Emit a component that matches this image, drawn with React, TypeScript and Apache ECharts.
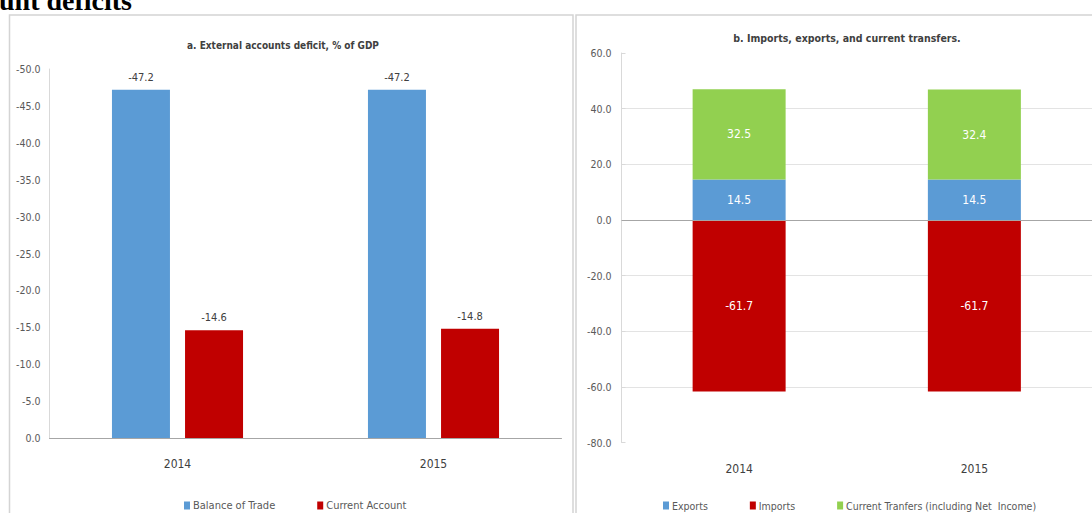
import React, { useEffect, useRef } from "react";
import * as echarts from "echarts";

// Panel a: external accounts deficit, % of GDP
const years = ["2014", "2015"];
const balanceOfTrade = [-47.2, -47.2];
const currentAccount = [-14.6, -14.8];

// Panel b: imports, exports and current transfers
const exportsVals = [14.5, 14.5];
const importsVals = [-61.7, -61.7];
const transfersVals = [32.5, 32.4];

const leftTicks = { min: -50, max: 0, step: 5 };
const rightTicks = { min: -80, max: 60, step: 20 };

const FONT = "'DejaVu Sans Condensed', 'Liberation Sans Narrow', sans-serif";
const BLUE = "#5b9bd5";
const RED = "#c00000";
const GREEN = "#92d050";
const TEXT = "#595959";

export default function App() {
  const ref = useRef<HTMLDivElement>(null);

  useEffect(() => {
    if (!ref.current) return;
    const chart = echarts.init(ref.current, null, { renderer: "svg" });
    const fmt = (v: number) => v.toFixed(1);

    const barLabel = (pos: string, color: string, size: number, dist = 5) => ({
      show: true,
      position: pos,
      distance: dist,
      color,
      fontFamily: FONT,
      fontSize: size,
      formatter: (p: any) => fmt(p.value),
    });

    chart.setOption({
      animation: false,
      backgroundColor: "#ffffff",
      textStyle: { fontFamily: FONT },
      graphic: [
        {
          type: "text",
          left: -1,
          top: -14,
          style: {
            text: "unt deficits",
            font: "bold 28px 'Liberation Serif', 'DejaVu Serif', serif",
            fill: "#000000",
          },
        },
        {
          type: "rect",
          shape: { x: 9.5, y: 15, width: 563.5, height: 520 },
          style: { fill: "none", stroke: "#d4d4d4", lineWidth: 1.5 },
          silent: true,
        },
        {
          type: "rect",
          shape: { x: 576, y: 15, width: 540, height: 520 },
          style: { fill: "none", stroke: "#d4d4d4", lineWidth: 1.5 },
          silent: true,
        },
      ],
      title: [
        {
          text: "a. External accounts deficit, % of GDP",
          left: 278,
          top: 35,
          textAlign: "center",
          textStyle: { fontFamily: FONT, fontSize: 10, fontWeight: "bold", color: "#404040" },
        },
        {
          text: "b. Imports, exports, and current transfers.",
          left: 842,
          top: 27,
          textAlign: "center",
          textStyle: { fontFamily: FONT, fontSize: 10.5, fontWeight: "bold", color: "#404040" },
        },
      ],
      legend: [
        {
          data: ["Balance of Trade", "Current Account"],
          left: 179,
          top: 495,
          itemWidth: 6,
          itemHeight: 8,
          itemGap: 42,
          icon: "rect",
          textStyle: { fontFamily: FONT, fontSize: 11, color: TEXT, padding: [0, 0, 0, -2] },
        },
        {
          data: ["Exports", "Imports", "Current Tranfers (including Net  Income)"],
          left: 658,
          top: 495,
          itemWidth: 6,
          itemHeight: 8,
          itemGap: 42,
          icon: "rect",
          textStyle: { fontFamily: FONT, fontSize: 10.5, color: TEXT, padding: [0, 0, 0, -2] },
        },
      ],
      grid: [
        { left: 49.5, right: 530.5, top: 69, bottom: 75 },
        { left: 621.5, right: 0, top: 53, bottom: 70.5 },
      ],
      xAxis: [
        {
          type: "category",
          gridIndex: 0,
          data: years,
          axisLine: { lineStyle: { color: "#a6a6a6" } },
          axisTick: { show: false },
          axisLabel: { color: "#404040", fontFamily: FONT, fontSize: 12, margin: 20 },
        },
        {
          type: "category",
          gridIndex: 1,
          data: years,
          axisLine: { show: false, onZero: false },
          axisTick: { show: false },
          axisLabel: { color: "#404040", fontFamily: FONT, fontSize: 12, margin: 20 },
        },
      ],
      yAxis: [
        {
          type: "value",
          gridIndex: 0,
          inverse: true,
          min: leftTicks.min,
          max: leftTicks.max,
          interval: leftTicks.step,
          axisLine: { show: true, lineStyle: { color: "#d9d9d9" } },
          axisTick: { show: false },
          splitLine: { show: false },
          axisLabel: { color: TEXT, fontFamily: FONT, fontSize: 10.5, margin: 9, formatter: fmt },
        },
        {
          type: "value",
          gridIndex: 1,
          min: rightTicks.min,
          max: rightTicks.max,
          interval: rightTicks.step,
          axisLine: { show: true, lineStyle: { color: "#d9d9d9" } },
          axisTick: { show: true, inside: true, length: 4, lineStyle: { color: "#d9d9d9" } },
          splitLine: {
            show: true,
            showMinLine: false,
            showMaxLine: false,
            lineStyle: { color: "#e3e3e3" },
          },
          axisLabel: { color: TEXT, fontFamily: FONT, fontSize: 10.5, margin: 10, formatter: fmt },
        },
      ],
      series: [
        {
          name: "Balance of Trade",
          type: "bar",
          xAxisIndex: 0,
          yAxisIndex: 0,
          data: balanceOfTrade,
          barWidth: 58,
          barGap: "26%",
          itemStyle: { color: BLUE },
          label: barLabel("top", "#404040", 11, 7),
        },
        {
          name: "Current Account",
          type: "bar",
          xAxisIndex: 0,
          yAxisIndex: 0,
          data: currentAccount,
          barWidth: 58,
          barGap: "26%",
          itemStyle: { color: RED },
          label: barLabel("top", "#404040", 11, 7),
        },
        {
          name: "Exports",
          type: "bar",
          xAxisIndex: 1,
          yAxisIndex: 1,
          stack: "flows",
          data: exportsVals,
          barWidth: 93,
          itemStyle: { color: BLUE },
          label: barLabel("inside", "#ffffff", 12),
        },
        {
          name: "Imports",
          type: "bar",
          xAxisIndex: 1,
          yAxisIndex: 1,
          stack: "flows",
          data: importsVals,
          barWidth: 93,
          itemStyle: { color: RED },
          label: barLabel("inside", "#ffffff", 12),
          markLine: {
            silent: true,
            symbol: "none",
            label: { show: false },
            lineStyle: { color: "#a6a6a6", width: 1, type: "solid" },
            data: [{ yAxis: 0 }],
          },
        },
        {
          name: "Current Tranfers (including Net  Income)",
          type: "bar",
          xAxisIndex: 1,
          yAxisIndex: 1,
          stack: "flows",
          data: transfersVals,
          barWidth: 93,
          itemStyle: { color: GREEN },
          label: barLabel("inside", "#ffffff", 12),
        },
      ],
    });

    return () => chart.dispose();
  }, []);

  return (
    <div
      ref={ref}
      style={{ position: "fixed", left: 0, top: 0, width: 1092, height: 513 }}
    />
  );
}
